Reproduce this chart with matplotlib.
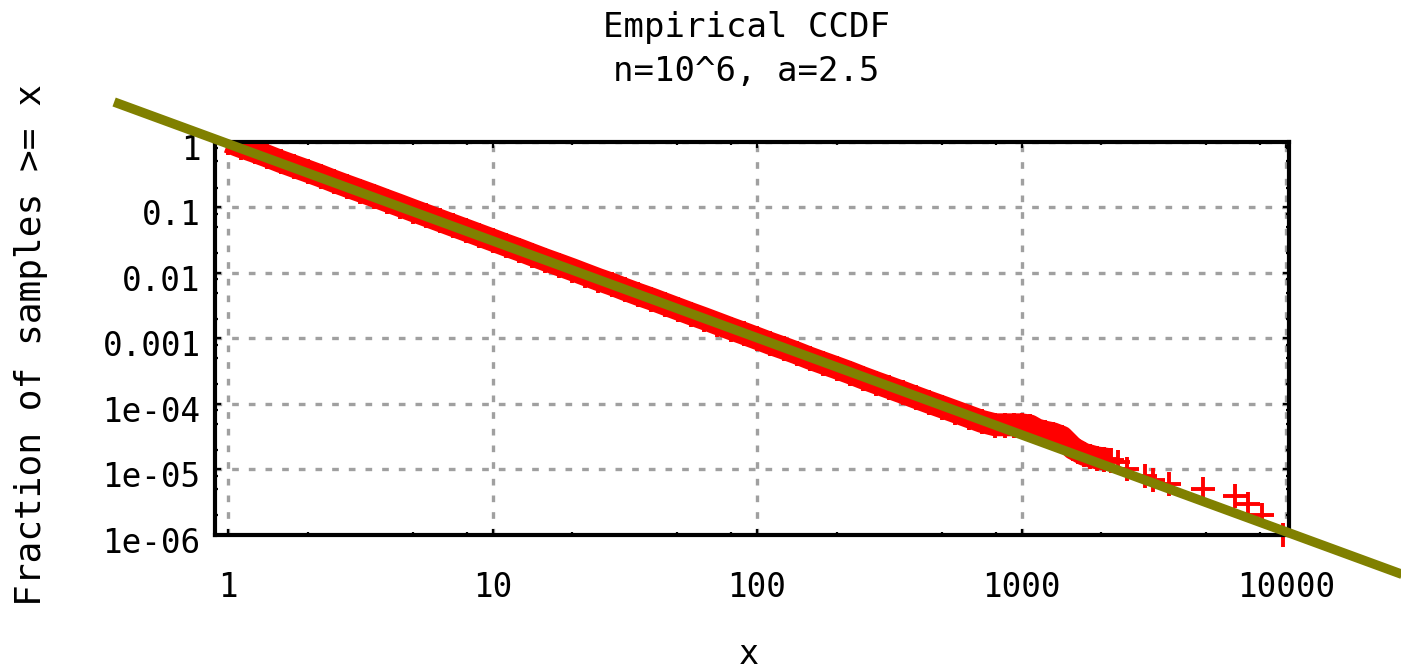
import numpy as np
import matplotlib
matplotlib.use("Agg")
import matplotlib.pyplot as plt
from matplotlib.ticker import FixedLocator, NullFormatter
from matplotlib.transforms import ScaledTranslation

plt.rcParams['font.family'] = ['DejaVu Sans Mono', 'DejaVu Sans']
plt.rcParams['lines.scale_dashes'] = False

# empirical CCDF, dense part
body_x = [1.0, 1.12, 1.26, 1.41, 1.58, 1.78, 2.0, 2.24, 2.51, 2.82,
          3.16, 3.55, 3.98, 4.47, 5.01, 5.62, 6.31, 7.08, 7.94, 8.91,
          10.0, 11.2, 12.6, 14.1, 15.8, 17.8, 20.0, 22.4, 25.1, 28.2,
          31.6, 35.5, 39.8, 44.7, 50.1, 56.2, 63.1, 70.8, 79.4, 89.1,
          100, 112, 126, 141, 158, 178, 200, 224, 251, 282,
          316, 355, 398, 447, 501, 562, 631, 708, 794, 867,
          940, 1000, 1077, 1145, 1230, 1316, 1422, 1500, 1566, 1640,
          1722, 1820, 1928, 2050, 2180]
body_y = [1.0, 0.84, 0.71, 0.60, 0.50, 0.42, 0.355, 0.30, 0.25, 0.21,
          0.178, 0.150, 0.126, 0.106, 0.089, 0.075, 0.063, 0.053, 0.0447, 0.0376,
          0.0316, 0.0266, 0.0224, 0.0188, 0.0158, 0.0133, 0.0112, 0.0094, 0.0079, 0.0067,
          0.0056, 0.0047, 0.0040, 0.00335, 0.00282, 0.00237, 0.0020, 0.00168, 0.00141, 0.00119,
          1.0e-3, 8.4e-4, 7.1e-4, 6.0e-4, 5.0e-4, 4.2e-4, 3.55e-4, 3.0e-4, 2.5e-4, 2.1e-4,
          1.78e-4, 1.5e-4, 1.26e-4, 1.06e-4, 9.0e-5, 7.6e-5, 6.4e-5, 5.4e-5, 4.8e-5, 4.8e-5,
          4.8e-5, 4.8e-5, 4.6e-5, 4.0e-5, 3.7e-5, 3.5e-5, 3.1e-5, 2.5e-5, 2.1e-5, 1.9e-5,
          1.7e-5, 1.6e-5, 1.5e-5, 1.45e-5, 1.4e-5]

# sparse tail samples
tail_x = [2317, 2506, 2930, 3141, 3610, 4853, 6412, 7180, 8110, 9740]
tail_y = [1.3e-5, 1.0e-5, 8e-6, 7e-6, 6e-6, 5e-6, 4e-6, 3e-6, 2e-6, 1e-6]

# fitted power law, end points
fit_x = [0.371, 30000]
fit_y = [4.03, 2.2e-7]

xticks = [1, 10, 100, 1000, 10000]
xlabels = ['1', '10', '100', '1000', '10000']
yticks = [1e-6, 1e-5, 1e-4, 1e-3, 1e-2, 1e-1, 1]
ylabels = ['1e-06', '1e-05', '1e-04', '0.001', '0.01', '0.1', '1']

fig = plt.figure(figsize=(14.01, 6.69), dpi=100)
ax = fig.add_axes([0.1532, 0.2003, 0.9200 - 0.1532, 0.7882 - 0.2003])

red = '#ff0000'
ax.plot(body_x, body_y, color=red, lw=16.5, solid_capstyle='butt', zorder=2)
ax.plot(body_x, body_y, ls='none', marker='+', ms=18, mew=2.8, color=red, zorder=2)
ax.plot(tail_x, tail_y, ls='none', marker='+', ms=17.5, mew=2.8, color=red,
        zorder=2, clip_on=False)
ax.plot(fit_x, fit_y, color='#808000', lw=6.8, solid_capstyle='butt',
        zorder=3, clip_on=False)

ax.set_xscale('log')
ax.set_yscale('log')
ax.set_xlim(0.89, 10250)
ax.set_ylim(1e-6, 1)

ax.xaxis.set_major_locator(FixedLocator(xticks))
ax.set_xticklabels(xlabels)
ax.yaxis.set_major_locator(FixedLocator(yticks))
ax.set_yticklabels(ylabels)
minx = [m * 10.0**e for e in range(0, 4) for m in (2, 5, 8)]
miny = [m * 10.0**e for e in range(-6, 0) for m in (2, 5, 8)]
ax.xaxis.set_minor_locator(FixedLocator(minx))
ax.yaxis.set_minor_locator(FixedLocator(miny))
ax.xaxis.set_minor_formatter(NullFormatter())
ax.yaxis.set_minor_formatter(NullFormatter())

ax.tick_params(which='both', direction='in', top=True, right=True,
               width=1.6, labelsize=23.5, colors='black')
ax.tick_params(which='major', length=4.5)
ax.tick_params(which='minor', length=2.5)
ax.tick_params(axis='x', which='major', pad=26)
ax.tick_params(axis='y', which='major', pad=10)

for lab in ax.get_yticklabels():
    lab.set_transform(lab.get_transform() + ScaledTranslation(0, -0.05, fig.dpi_scale_trans))

for sp in ax.spines.values():
    sp.set_linewidth(3)

ax.grid(True, which='major', color='#a0a0a0', lw=2.4, dashes=(4.8, 7.2))
ax.set_axisbelow(True)

ax.set_xlabel('x', fontsize=24, va='center')
ax.xaxis.set_label_coords(0.497, -0.305)
ax.set_ylabel('Fraction of samples >= x', fontsize=26, va='center')
ax.yaxis.set_label_coords(-0.171, 0.483)

fig.text(0.533, 1 - 27 / 669, 'Empirical CCDF', fontsize=24.5, ha='center', va='center')
fig.text(0.533, 1 - 72 / 669, 'n=10^6, a=2.5', fontsize=24.5, ha='center', va='center')

fig.savefig('out.png', dpi=100)
